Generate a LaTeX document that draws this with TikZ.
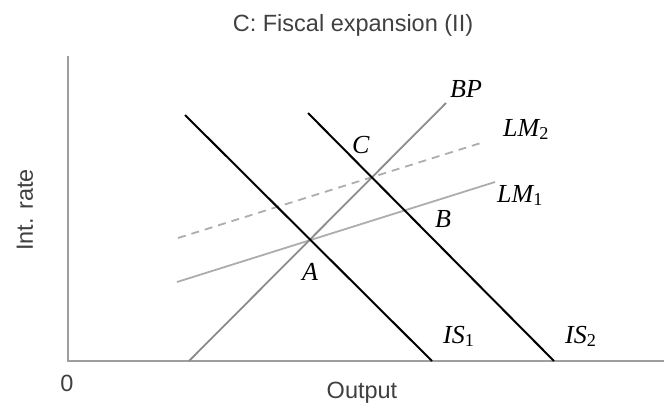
\documentclass[tikz,border=0pt]{standalone}
\usepackage{fontspec}
\setmainfont{Liberation Serif}
\setsansfont{Liberation Sans}
\usetikzlibrary{positioning}

\definecolor{axisgray}{gray}{0.62}
\definecolor{bpgray}{gray}{0.55}
\definecolor{lmgray}{gray}{0.68}
\definecolor{textgray}{gray}{0.25}

\begin{document}
\begin{tikzpicture}[x=1pt, y=-1pt,
    isline/.style={black, line width=2pt},
    lbl/.style={inner sep=0pt, anchor=base west, font=\fontsize{26}{30}\selectfont\itshape},
    txt/.style={inner sep=0pt, text=textgray, font=\sffamily\fontsize{23.5}{27}\selectfont}]
    \useasboundingbox (0,0) rectangle (664,408);

    % axes
    \coordinate (top) at (68,56);
    \coordinate (O) at (68,361);
    \coordinate (right) at (664,361);
    \draw[axisgray, line width=2.5pt] (top) -- (O) -- (right);

    \node[txt, anchor=base] (title) at (353,31) {C: Fiscal expansion (II)};
    \node[txt, rotate=90] (ylab) at (25,210) {Int. rate};
    \node[txt] (zero) at (67,383) {0};
    \node[txt, anchor=base] (xlab) at (362,398) {Output};

    % end points of the curves
    \coordinate (is1a) at (185,115);
    \coordinate (is1b) at (432,361);
    \coordinate (is2a) at (308,113);
    \coordinate (is2b) at (554,361);
    \coordinate (bpa) at (189,361);
    \coordinate (bpb) at (446,103);
    \coordinate (lm1a) at (177,282);
    \coordinate (lm1b) at (495,182);
    \coordinate (lm2a) at (178,238);
    \coordinate (lm2b) at (484,142);

    \draw[lmgray, line width=1.8pt] (lm1a) -- (lm1b);
    \draw[lmgray, line width=1.8pt, dash pattern=on 8pt off 6pt] (lm2a) -- (lm2b);
    \draw[bpgray, line width=1.8pt] (bpa) -- (bpb);
    \draw[isline] (is1a) -- (is1b);
    \draw[isline] (is2a) -- (is2b);

    % labels
    \node[lbl] (bp) at (450,97) {BP};
    \node[lbl] (lm2) at (503,136) {LM\textsubscript{\upshape 2}};
    \node[lbl] (lm1) at (497,202) {LM\textsubscript{\upshape 1}};
    \node[lbl] (is1) at (443,343) {IS\textsubscript{\upshape 1}};
    \node[lbl] (is2) at (565,343) {IS\textsubscript{\upshape 2}};
    \node[lbl] (ptA) at (302,280) {A};
    \node[lbl] (ptB) at (435,227) {B};
    \node[lbl] (ptC) at (352,153) {C};
\end{tikzpicture}
\end{document}
